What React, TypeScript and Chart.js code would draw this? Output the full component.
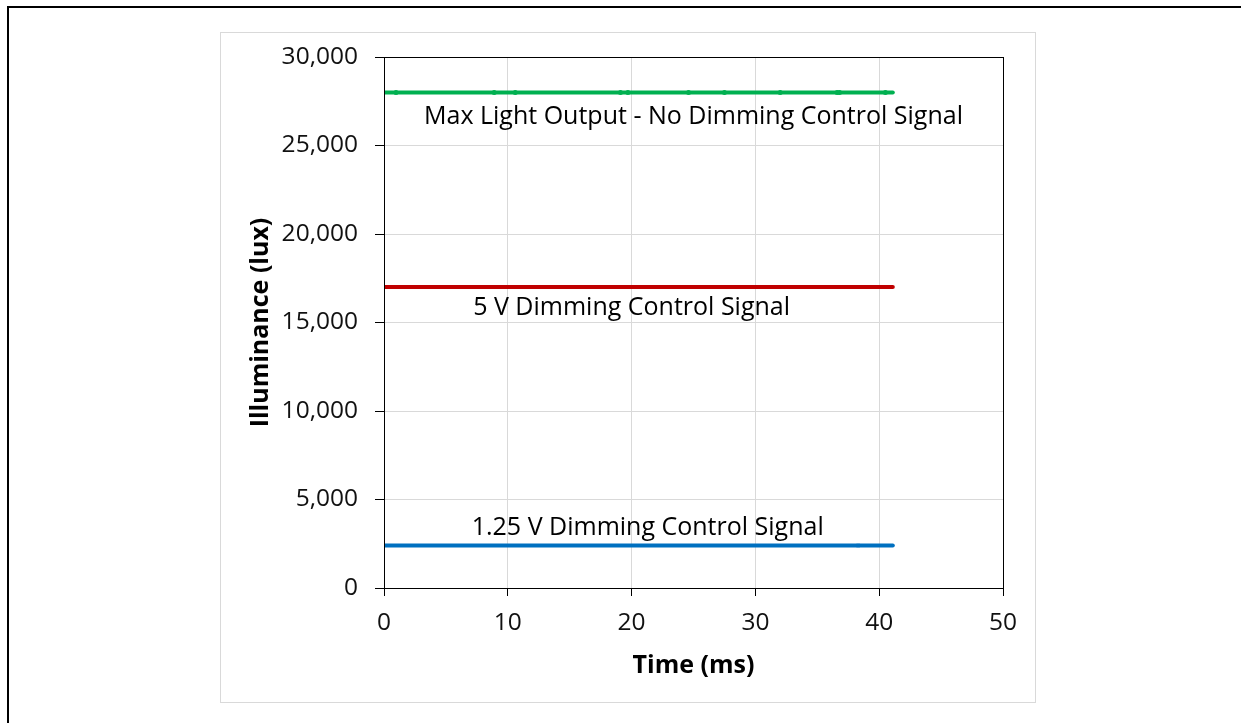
import React, { useEffect, useRef } from "react";
import { Chart, registerables } from "chart.js";

Chart.register(...registerables);

// Time axis (ms) and illuminance (lux) samples for each dimming condition
const maxOutputTimes = [0, 0.97, 8.9, 10.6, 19.1, 19.7, 24.6, 27.5, 32.0, 36.6, 36.8, 40.5, 41.1];
const maxOutputLux = [28000, 28000, 28000, 28000, 28000, 28000, 28000, 28000, 28000, 28000, 28000, 28000, 28000];

const fiveVoltTimes = [0, 41.1];
const fiveVoltLux = [17000, 17000];

const lowVoltTimes = [0, 38.3, 41.1];
const lowVoltLux = [2400, 2400, 2400];

const xTicks = [0, 10, 20, 30, 40, 50];
const yTicks = [0, 5000, 10000, 15000, 20000, 25000, 30000];

// Series captions placed in data coordinates: [time, lux, text]
const captions: [number, number, string][] = [
  [25, 26600, "Max Light Output - No Dimming Control Signal"],
  [20, 15800, "5 V Dimming Control Signal"],
  [21.3, 3400, "1.25 V Dimming Control Signal"],
];

const FONT = '"Open Sans", "Noto Sans", sans-serif';

const toPoints = (t: number[], v: number[]) => t.map((x, i) => ({ x, y: v[i] }));

const endMarkers = (n: number) => (ctx: any) =>
  ctx.dataIndex === 0 || ctx.dataIndex === n - 1 ? 0 : 2.5;

const framePlugin = {
  id: "frame",
  beforeDraw(chart: any) {
    const ctx = chart.ctx;
    ctx.save();
    ctx.fillStyle = "#fff";
    ctx.fillRect(0, 0, chart.width, chart.height);
    // page frame: top and left edges
    ctx.strokeStyle = "#000";
    ctx.lineWidth = 2;
    ctx.beginPath();
    ctx.moveTo(8, chart.height + 5);
    ctx.lineTo(8, 7);
    ctx.lineTo(chart.width + 5, 7);
    ctx.stroke();
    // chart box
    ctx.strokeStyle = "#d9d9d9";
    ctx.lineWidth = 1;
    ctx.strokeRect(220.5, 32.5, 815, 670);
    ctx.restore();
  },
  afterDraw(chart: any) {
    const { ctx, chartArea, scales } = chart;
    ctx.save();
    ctx.strokeStyle = "#000";
    ctx.lineWidth = 1;
    ctx.strokeRect(
      Math.round(chartArea.left) + 0.5,
      Math.round(chartArea.top) + 0.5,
      Math.round(chartArea.right - chartArea.left),
      Math.round(chartArea.bottom - chartArea.top)
    );
    ctx.fillStyle = "#000";
    ctx.font = `25px ${FONT}`;
    ctx.textAlign = "center";
    ctx.textBaseline = "middle";
    for (const [t, lux, text] of captions) {
      ctx.fillText(text, scales.x.getPixelForValue(t), scales.y.getPixelForValue(lux));
    }
    ctx.restore();
  },
};

export default function App() {
  const ref = useRef<HTMLCanvasElement | null>(null);

  useEffect(() => {
    if (!ref.current) return;
    const chart = new Chart(ref.current, {
      type: "scatter",
      data: {
        datasets: [
          {
            label: "Max Light Output - No Dimming Control Signal",
            data: toPoints(maxOutputTimes, maxOutputLux),
            showLine: true,
            borderColor: "#00B050",
            backgroundColor: "#00B050",
            borderWidth: 4,
            borderCapStyle: "round",
            pointRadius: endMarkers(maxOutputTimes.length),
            pointBorderWidth: 0,
          },
          {
            label: "5 V Dimming Control Signal",
            data: toPoints(fiveVoltTimes, fiveVoltLux),
            showLine: true,
            borderColor: "#C00000",
            backgroundColor: "#C00000",
            borderWidth: 4,
            borderCapStyle: "round",
            pointRadius: 0,
          },
          {
            label: "1.25 V Dimming Control Signal",
            data: toPoints(lowVoltTimes, lowVoltLux),
            showLine: true,
            borderColor: "#0070C0",
            backgroundColor: "#0070C0",
            borderWidth: 4,
            borderCapStyle: "round",
            pointRadius: endMarkers(lowVoltTimes.length),
            pointStyle: "rect",
            pointBorderWidth: 0,
          },
        ],
      },
      options: {
        animation: false,
        responsive: false,
        devicePixelRatio: 1,
        layout: { padding: { left: 0, right: 238, top: 57, bottom: 0 } },
        plugins: { legend: { display: false }, tooltip: { enabled: false } },
        scales: {
          x: {
            type: "linear",
            min: 0,
            max: 50,
            afterFit: (s: any) => {
              s.height = 135;
            },
            afterBuildTicks: (s: any) => {
              s.ticks = xTicks.map((value) => ({ value }));
            },
            grid: { color: "#d9d9d9", tickColor: "#000", tickLength: 8, lineWidth: 1 },
            border: { color: "#000", width: 1 },
            ticks: {
              color: "#111",
              font: { family: FONT, size: 24.5 },
              padding: 12,
              maxRotation: 0,
            },
            title: {
              display: true,
              text: "Time (ms)",
              color: "#000",
              font: { family: FONT, size: 25, weight: "bold" },
              padding: { top: 0, bottom: 42 },
            },
          },
          y: {
            type: "linear",
            min: 0,
            max: 30000,
            afterFit: (s: any) => {
              s.width = 384;
            },
            afterBuildTicks: (s: any) => {
              s.ticks = yTicks.map((value) => ({ value }));
            },
            grid: { color: "#d9d9d9", tickColor: "#000", tickLength: 9, lineWidth: 1 },
            border: { color: "#000", width: 1 },
            ticks: {
              color: "#111",
              font: { family: FONT, size: 24.5 },
              padding: 17,
              callback: (v: any) => Number(v).toLocaleString("en-US"),
            },
            title: {
              display: true,
              text: "Illuminance (lux)",
              color: "#000",
              font: { family: FONT, size: 25, weight: "bold" },
              padding: { top: 246, bottom: 0 },
            },
          },
        },
      },
      plugins: [framePlugin],
    });
    return () => chart.destroy();
  }, []);

  return (
    <div style={{ position: "absolute", left: 0, top: 0, width: 1241, height: 723, background: "#fff" }}>
      <canvas ref={ref} width={1241} height={723} style={{ display: "block" }} />
    </div>
  );
}
